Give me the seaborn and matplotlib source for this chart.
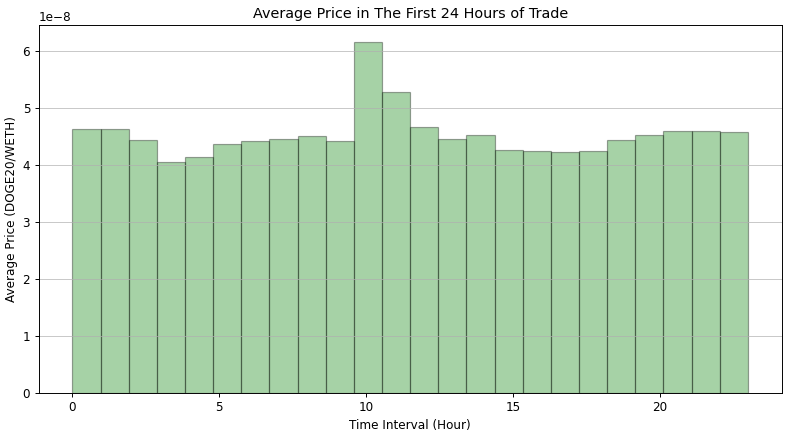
import matplotlib
matplotlib.use("Agg")
import matplotlib.pyplot as plt
import seaborn as sns
import pandas as pd

# === Hourly average price (DOGE20/WETH), first 24h of trade ===
hours = list(range(24))
avg_price = [4.64, 4.64, 4.44, 4.06, 4.15, 4.38, 4.43, 4.47, 4.52, 4.43,
             6.16, 5.28, 4.67, 4.47, 4.53, 4.26, 4.25, 4.24, 4.25, 4.45,
             4.53, 4.60, 4.60, 4.59]
avg_price = [p * 1e-8 for p in avg_price]

df = pd.DataFrame({"hour": hours, "price": avg_price})

dpi = 86.3
fig = plt.figure(figsize=(788 / dpi, 435 / dpi), dpi=dpi)
ax = fig.add_axes([0.049, 0.0966, 0.943, 0.8464])
sns.histplot(data=df, x="hour", weights="price", bins=24, color="green",
             alpha=0.35, edgecolor=(0, 0, 0, 0.35), ax=ax)
ax.set_title("Average Price in The First 24 Hours of Trade")
ax.set_xlabel("Time Interval (Hour)")
ax.set_ylabel("Average Price (DOGE20/WETH)")
ax.grid(axis="y", alpha=0.7)
fig.savefig("out.png", dpi=dpi)
